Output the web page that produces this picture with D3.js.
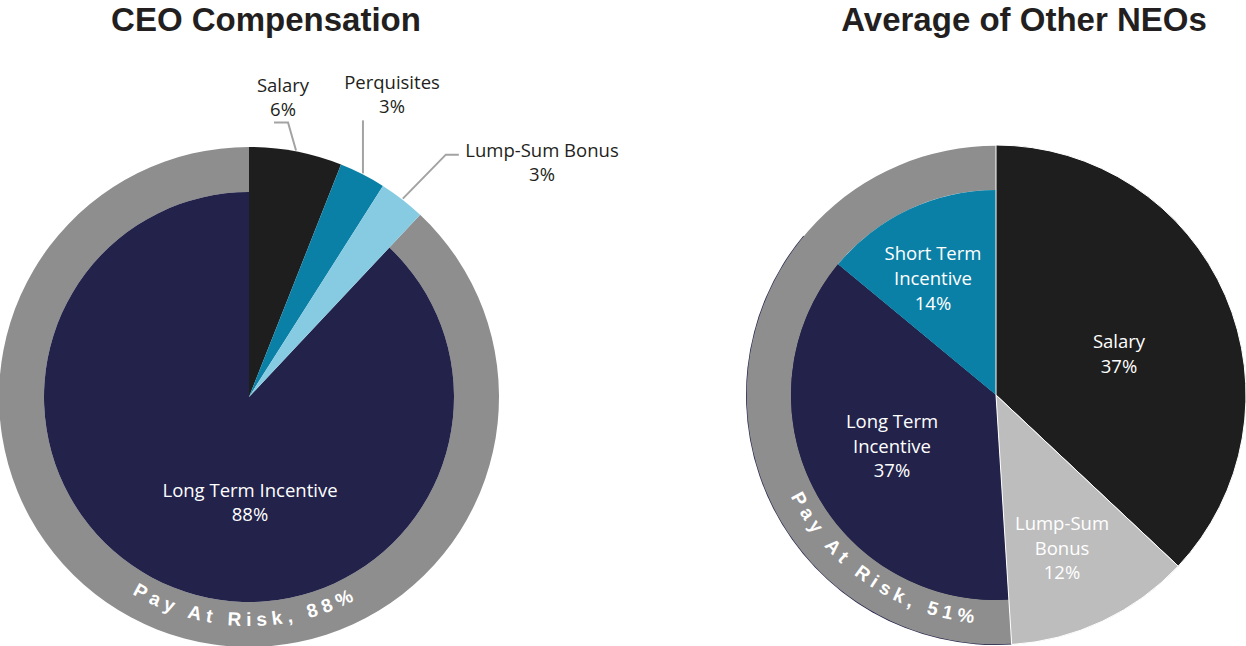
<!DOCTYPE html>
<html>
<head>
<meta charset="utf-8">
<script src="https://cdn.jsdelivr.net/npm/d3@7/dist/d3.min.js"></script>
<style>
  html, body { margin: 0; padding: 0; background: #ffffff; }
  svg { display: block; }
</style>
</head>
<body>
<svg id="chart" width="1246" height="646"></svg>
<script>
// ---------- DATA ----------
const ceoCategories = ["Salary", "Perquisites", "Lump-Sum Bonus", "Long Term Incentive"];
const ceoValues     = [6, 3, 3, 88];
const ceoAtRisk     = [false, false, false, true];
const ceoRiskLabel  = "Pay At Risk, 88%";

const neoCategories = ["Salary", "Lump-Sum Bonus", "Long Term Incentive", "Short Term Incentive"];
const neoValues     = [37, 12, 37, 14];
const neoAtRisk     = [false, false, true, true];
const neoRiskLabel  = "Pay At Risk, 51%";

const titles = ["CEO Compensation", "Average of Other NEOs"];

// ---------- STYLE / LAYOUT ----------
const colorMap = {
  "Salary": "#1e1e1e",
  "Perquisites": "#0b80a6",
  "Lump-Sum Bonus": "#87cbe3",
  "Long Term Incentive": "#22224a",
  "Short Term Incentive": "#0b80a6"
};
const neoColorMap = Object.assign({}, colorMap, { "Lump-Sum Bonus": "#bdbdbd" });
const ringColor = "#8e8e8e";
const R = 250, r = 205;

const svg = d3.select("#chart");

function drawPie(cfg) {
  const g = svg.append("g").attr("transform", `translate(${cfg.cx},${cfg.cy})`);
  const pie = d3.pie().sort(null).value(d => d.value);
  const data = cfg.categories.map((c, i) => ({ name: c, value: cfg.values[i], risk: cfg.atRisk[i] }));
  const arcs = pie(data);
  const arcOuter = d3.arc().innerRadius(0).outerRadius(R);
  const arcInner = d3.arc().innerRadius(0).outerRadius(r);

  const riskArcs = arcs.filter(d => d.data.risk);
  const safeArcs = arcs.filter(d => !d.data.risk);

  // faint dark edge under ring (LTI only, right chart)
  if (cfg.darkEdge) {
    g.selectAll("path.edge").data(riskArcs.filter(d => d.data.name === "Long Term Incentive")).join("path")
      .attr("class", "edge")
      .attr("d", arcOuter)
      .attr("fill", d => cfg.colors[d.data.name]);
  }

  // at-risk ring
  const ringStart = d3.min(riskArcs, d => d.startAngle);
  const ringEnd = d3.max(riskArcs, d => d.endAngle);
  g.append("path")
    .attr("d", d3.arc().innerRadius(r).outerRadius(cfg.darkEdge ? R - 0.7 : R).startAngle(ringStart).endAngle(ringEnd)())
    .attr("fill", ringColor);

  // at-risk slices (inner)
  g.selectAll("path.rslice").data(riskArcs).join("path")
    .attr("class", "rslice")
    .attr("d", arcInner)
    .attr("fill", d => cfg.colors[d.data.name]);

  // other slices (full radius)
  g.selectAll("path.slice").data(safeArcs).join("path")
    .attr("class", "slice")
    .attr("d", arcOuter)
    .attr("fill", d => cfg.colors[d.data.name])
    .attr("stroke", cfg.sepColor || "none")
    .attr("stroke-width", cfg.sepColor ? 1 : 0);

  // ring text
  const rt = 229;
  const mid = cfg.riskTextAngle * Math.PI / 180;
  const a0 = mid + 89 * Math.PI / 180, a1 = mid - 89 * Math.PI / 180;
  const p0 = [rt * Math.sin(a0), -rt * Math.cos(a0)];
  const p1 = [rt * Math.sin(a1), -rt * Math.cos(a1)];
  g.append("path").attr("id", cfg.id + "-tp")
    .attr("d", `M${p0[0]},${p0[1]} A${rt},${rt} 0 0 0 ${p1[0]},${p1[1]}`)
    .attr("fill", "none");
  g.append("text")
    .attr("font-family", "'Liberation Sans', Arial, sans-serif")
    .attr("font-weight", "bold")
    .attr("font-size", 19)
    .attr("letter-spacing", 5.3)
    .attr("fill", "#ffffff")
    .append("textPath")
    .attr("href", "#" + cfg.id + "-tp")
    .attr("startOffset", "50%")
    .attr("text-anchor", "middle")
    .text(cfg.riskLabel);

  // labels
  arcs.forEach((d, i) => {
    const L = cfg.labels[d.data.name];
    if (!L) return;
    const lines = L.lines.concat([d.data.value + "%"]);
    let x = L.dx, y = L.dy;
    if (L.leader) {
      const m = (d.startAngle + d.endAngle) / 2;
      const end = [(R + 1) * Math.sin(m), -(R + 1) * Math.cos(m)];
      const pts = [
        [end[0] + L.leader[2][0], end[1] + L.leader[2][1]],
        [end[0] + L.leader[1][0], end[1] + L.leader[1][1]],
        end
      ];
      g.append("path")
        .attr("d", d3.line()(pts))
        .attr("fill", "none")
        .attr("stroke", "#a3a3a3")
        .attr("stroke-width", 2);
    }
    const t = g.append("text")
      .attr("font-family", "'Open Sans', sans-serif")
      .attr("font-size", 18.5)
      .attr("fill", L.color)
      .attr("text-anchor", "middle");
    lines.forEach((ln, j) => {
      t.append("tspan").attr("x", x).attr("y", y + j * L.lh).text(ln);
    });
  });

  svg.append("text")
    .attr("x", cfg.titleX).attr("y", 31)
    .attr("text-anchor", "middle")
    .attr("font-family", "'Liberation Sans', Arial, sans-serif")
    .attr("font-weight", "bold")
    .attr("font-size", 33)
    .attr("fill", "#231f20")
    .text(cfg.title);
}

drawPie({
  id: "ceo", cx: 249, cy: 397, title: titles[0], titleX: 266,
  categories: ceoCategories, values: ceoValues, atRisk: ceoAtRisk,
  colors: colorMap, riskLabel: ceoRiskLabel, riskTextAngle: 181,
  labels: {
    "Salary": { lines: ["Salary"], dx: 34, dy: -305, lh: 23.5, color: "#231f20",
      leader: [null, [-8, -28], [-22, -28]] },
    "Perquisites": { lines: ["Perquisites"], dx: 143, dy: -308, lh: 23.5, color: "#231f20",
      leader: [null, [0, -53], [0, -53]] },
    "Lump-Sum Bonus": { lines: ["Lump-Sum Bonus"], dx: 293, dy: -240, lh: 23.5, color: "#231f20",
      leader: [null, [43, -44], [56, -44]] },
    "Long Term Incentive": { lines: ["Long Term Incentive"], dx: 1, dy: 100, lh: 24, color: "#ffffff" }
  }
});

drawPie({
  id: "neo", cx: 996, cy: 395, title: titles[1], titleX: 1024,
  categories: neoCategories, values: neoValues, atRisk: neoAtRisk,
  colors: neoColorMap, riskLabel: neoRiskLabel, riskTextAngle: 214,
  sepColor: "#ffffff", darkEdge: true,
  labels: {
    "Salary": { lines: ["Salary"], dx: 123, dy: -47, lh: 24.5, color: "#ffffff" },
    "Short Term Incentive": { lines: ["Short Term", "Incentive"], dx: -63, dy: -135, lh: 25, color: "#ffffff" },
    "Long Term Incentive": { lines: ["Long Term", "Incentive"], dx: -104, dy: 33, lh: 24.5, color: "#ffffff" },
    "Lump-Sum Bonus": { lines: ["Lump-Sum", "Bonus"], dx: 66, dy: 135, lh: 24.5, color: "#ffffff" }
  }
});
</script>
</body>
</html>
